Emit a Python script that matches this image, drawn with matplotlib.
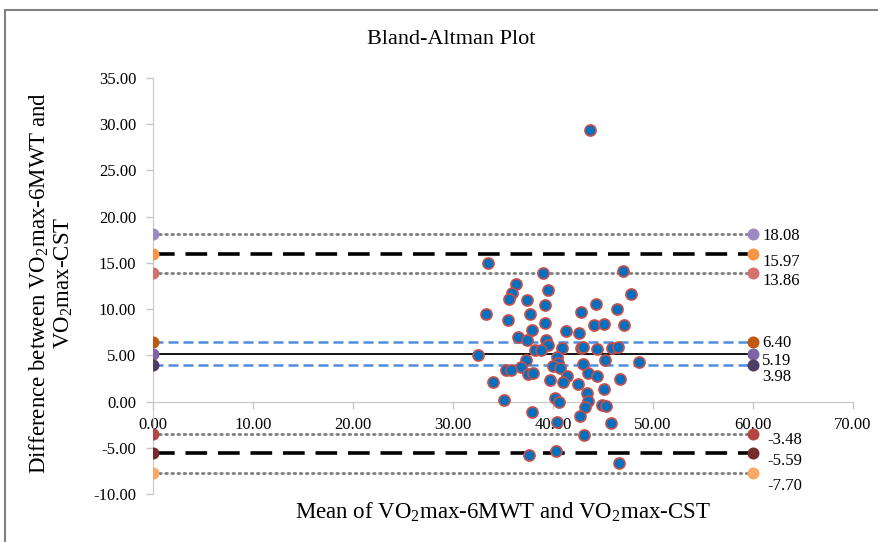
import matplotlib.pyplot as plt
import matplotlib.patches as patches

plt.rcParams['font.family'] = ['Liberation Serif', 'DejaVu Serif']
plt.rcParams['mathtext.fontset'] = 'custom'
plt.rcParams['mathtext.rm'] = 'Liberation Serif'
plt.rcParams['axes.unicode_minus'] = False

# Mean of the two methods (x) and their difference (y), one pair per subject
mean_vo2 = [33.5, 39.0, 47.0, 36.3, 35.9, 35.6, 39.5, 37.4, 39.2, 47.8,
            33.3, 37.7, 35.5, 42.8, 44.3, 46.4, 39.2, 44.1, 45.1, 47.1,
            37.9, 41.3, 42.6, 36.5, 37.4, 39.3, 39.5, 38.2, 38.8, 40.9,
            42.8, 43.0, 44.4, 45.9, 46.5, 32.5, 40.4, 40.5, 40.0, 37.3,
            36.8, 35.3, 35.8, 37.5, 38.0, 40.7, 43.0, 45.2, 48.6, 43.5,
            44.4, 41.4, 34.0, 46.7, 39.7, 41.0, 42.5, 45.1, 43.4, 43.5,
            35.1, 40.2, 40.6, 44.9, 45.3, 43.2, 37.9, 42.7, 45.8, 40.4,
            43.1, 37.6, 40.3, 46.6, 43.7]
diff_vo2 = [14.96, 13.95, 14.17, 12.69, 11.72, 11.07, 12.05, 10.96, 10.46, 11.60,
            9.50, 9.46, 8.85, 9.74, 10.54, 10.03, 8.52, 8.31, 8.41, 8.23,
            7.78, 7.62, 7.45, 7.00, 6.62, 6.65, 6.15, 5.54, 5.61, 5.79,
            5.79, 5.95, 5.65, 5.79, 5.90, 5.05, 4.82, 4.17, 3.88, 4.50,
            3.73, 3.38, 3.38, 3.02, 3.06, 3.63, 4.10, 4.50, 4.28, 3.10,
            2.77, 2.77, 2.09, 2.45, 2.37, 2.09, 1.94, 1.33, 0.90, 0.10,
            0.22, 0.40, -0.10, -0.32, -0.43, -0.60, -1.15, -1.55, -2.37, -2.20,
            -3.67, -5.83, -5.36, -6.65, 29.40]

# Horizontal reference lines, each drawn from x=0 to x=60
line_x = [0, 60]
ref_values = [18.08, 15.97, 13.86, 6.40, 5.19, 3.98, -3.48, -5.59, -7.70]
ref_labels = ['18.08', '15.97', '13.86', '6.40', '5.19', '3.98', '-3.48', '-5.59', '-7.70']

# style per reference line
ref_kind = ['ci', 'loa', 'ci', 'bci', 'bias', 'bci', 'ci', 'loa', 'ci']
ref_marker_colors = ['#9D8AC2', '#F79646', '#D5716E', '#C0590F', '#8064A2',
                     '#4E3C66', '#B34543', '#772B2A', '#F9A866']
label_offsets = [(9, -2), (9, -8), (9, -8), (9, -1), (9, -7), (9, -12),
                 (14, -6), (14, -8), (14, -13)]

line_styles = {
    'ci': dict(color='#7F7F7F', lw=2.0, linestyle=(0, (0.6, 1.6)), dash_capstyle='round'),
    'loa': dict(color='black', lw=2.6, linestyle=(0, (6, 3))),
    'bci': dict(color='#4F8EDC', lw=1.8, linestyle=(0, (4, 2))),
    'bias': dict(color='black', lw=1.3, linestyle='-'),
}

fig = plt.figure(figsize=(8.79, 5.42), dpi=100)
ax = fig.add_axes([153 / 879, 48 / 542, 700 / 879, 416 / 542])

for v, kind, mc, lab, off in zip(ref_values, ref_kind, ref_marker_colors,
                                 ref_labels, label_offsets):
    ax.plot(line_x, [v, v], zorder=2, **line_styles[kind])
    ax.scatter(line_x, [v, v], s=75, color=mc, zorder=3, linewidths=0)
    ax.annotate(lab, (line_x[1], v), xytext=off, textcoords='offset pixels',
                ha='left', va='center', fontsize=12)

ax.scatter(mean_vo2, diff_vo2, s=62, facecolor='#0070C0', edgecolor='#C0504D',
           linewidths=1.3, zorder=4)

ax.set_xlim(0, 70)
ax.set_ylim(-10, 35)
ax.set_xticks(range(0, 71, 10))
ax.set_yticks(range(-10, 36, 5))
ax.xaxis.set_major_formatter('{x:.2f}')
ax.yaxis.set_major_formatter('{x:.2f}')
ax.spines['bottom'].set_position(('data', 0))
ax.spines['top'].set_visible(False)
ax.spines['right'].set_visible(False)
for s in ('bottom', 'left'):
    ax.spines[s].set_color('#C8C8C8')
ax.tick_params(colors='#C8C8C8', labelcolor='black', labelsize=12, length=5, width=1)
ax.tick_params(axis='y', pad=7)
ax.tick_params(axis='x', pad=6)
ax.set_axisbelow(True)

fig.text(451 / 879, 1 - 40 / 542, 'Bland-Altman Plot', ha='center', va='center', fontsize=16)
fig.text(503 / 879, 1 - 512 / 542, r'Mean of VO$_2$max-6MWT and VO$_2$max-CST',
         ha='center', va='center', fontsize=16.5)
fig.text(51 / 879, 1 - 283 / 542,
         'Difference between VO$_2$max-6MWT and\nVO$_2$max-CST',
         ha='center', va='center', rotation=90, fontsize=16.5, linespacing=1.05)

fig.patches.append(patches.Rectangle((5 / 879, -0.05), 1.1, 1 - 10 / 542 + 0.05,
                                     fill=False, edgecolor='#808080', lw=1.5,
                                     transform=fig.transFigure, figure=fig))

fig.savefig('out.png', dpi=100)
